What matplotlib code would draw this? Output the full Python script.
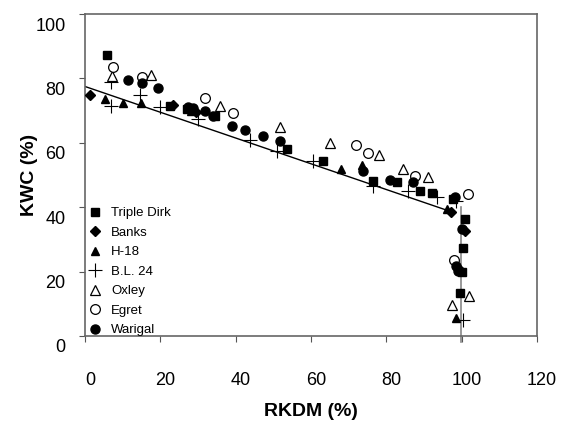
import matplotlib
matplotlib.use("Agg")
import matplotlib.pyplot as plt
import matplotlib.transforms as mtransforms

plt.rcParams['font.family'] = ['Liberation Sans', 'DejaVu Sans']

# ---- data ----
triple_dirk_x = [5.8, 22.5, 27, 34.5, 53.6, 63.1, 76.4, 82.7, 88.9, 92, 97.6, 100.8, 100.3, 100, 99.5]
triple_dirk_y = [87.3, 71.6, 70.4, 68.2, 58, 54.3, 48.1, 47.8, 45, 44.4, 42.6, 36.4, 27.2, 20, 13.3]

banks_x = [1.3, 23.3, 29.5, 97.3, 101, 99.5]
banks_y = [75, 71.9, 69.5, 38.6, 32.7, 20.5]

h18_x = [5.3, 10, 14.9, 28, 68, 73.5, 96, 98.6]
h18_y = [73.5, 72.5, 72.5, 70, 51.9, 53, 39.5, 5.5]

bl24_x = [6.9, 6.9, 14.6, 19.9, 30, 43.8, 51, 60.5, 76.4, 85.7, 93.4, 100.3, 98.5]
bl24_y = [79, 71.3, 75, 71, 67.5, 61, 57.4, 54.3, 46.6, 45, 43.2, 4.9, 42]

oxley_x = [7.2, 17.5, 35.8, 51.7, 65, 78, 84.4, 91, 97.5, 102]
oxley_y = [80.9, 81.2, 71.3, 64.8, 59.9, 56.2, 51.9, 49.4, 9.6, 12.3]

egret_x = [7.4, 15.1, 31.8, 39.3, 71.9, 75, 87.5, 101.6, 98.1]
egret_y = [83.6, 80.6, 74, 69.4, 59.2, 57, 49.7, 44, 23.5]

warigal_x = [11.4, 15.1, 19.4, 27.3, 28.6, 31.8, 34, 39, 42.4, 47.2, 51.7, 73.7, 81, 87, 98.2, 98.6, 99, 100]
warigal_y = [79.6, 78.7, 76.9, 71, 70.8, 69.8, 68.2, 65.1, 63.9, 62, 60.5, 51.2, 48.5, 47.8, 43.2, 21.6, 20.3, 33.3]

fit_x = [0, 97.5]
fit_y = [77.5, 38.5]
vert_x = [99.7, 99.7]
vert_y = [40, -2]

x_ticks = [0, 20, 40, 60, 80, 100, 120]
y_ticks = [0, 20, 40, 60, 80, 100]

# ---- figure ----
fig = plt.figure(figsize=(5.64, 4.28), dpi=100)
ax = fig.add_axes([0.151, 0.215, 0.801, 0.752])

ax.plot(fit_x, fit_y, color='black', lw=1.0, zorder=2)
ax.plot(vert_x, vert_y, color='#888888', lw=1.2, zorder=1, clip_on=False)

ms = 6.0
ax.plot(triple_dirk_x, triple_dirk_y, 's', color='black', ms=ms, ls='none', label='Triple Dirk', zorder=3)
ax.plot(banks_x, banks_y, 'D', color='black', ms=5.0, ls='none', label='Banks', zorder=3)
ax.plot(h18_x, h18_y, '^', color='black', ms=ms, ls='none', label='H-18', zorder=3)
ax.plot(bl24_x, bl24_y, '+', color='black', ms=10.5, mew=0.8, ls='none', label='B.L. 24', zorder=3)
ax.plot(oxley_x, oxley_y, '^', mfc='white', mec='black', mew=0.9, ms=7.0, ls='none', label='Oxley', zorder=3)
ax.plot(egret_x, egret_y, 'o', mfc='white', mec='black', mew=0.9, ms=7.0, ls='none', label='Egret', zorder=3)
ax.plot(warigal_x, warigal_y, 'o', color='black', ms=ms + 0.5, ls='none', label='Warigal', zorder=3)

ax.set_xlim(0, 120)
ax.set_ylim(0, 100)
ax.set_xticks(x_ticks)
ax.set_yticks(y_ticks)
ax.tick_params(axis='both', direction='out', length=4, width=0.8, colors='#555555',
               labelcolor='black', labelsize=13)
ax.tick_params(axis='x', pad=22)
ax.tick_params(axis='y', pad=10)

for sp in ax.spines.values():
    sp.set_color('#666666')
    sp.set_linewidth(1.2)

# shift tick labels like in the reference
off_y = mtransforms.ScaledTranslation(0, -10 / 100, fig.dpi_scale_trans)
for lab in ax.get_yticklabels():
    lab.set_transform(lab.get_transform() + off_y)
off_x = mtransforms.ScaledTranslation(5 / 100, 0, fig.dpi_scale_trans)
for lab in ax.get_xticklabels():
    lab.set_transform(lab.get_transform() + off_x)

ax.set_xlabel('RKDM (%)', fontsize=14, fontweight='bold', labelpad=10)
ax.set_ylabel('KWC (%)', fontsize=14, fontweight='bold')
ax.yaxis.set_label_coords(-0.104, 0.5)

leg = ax.legend(loc='upper left', bbox_to_anchor=(-0.01, 0.425), frameon=False,
                fontsize=9.5, handlelength=1.0, handletextpad=0.7,
                labelspacing=0.55, borderaxespad=0.2)

fig.savefig('out.png', dpi=100)
